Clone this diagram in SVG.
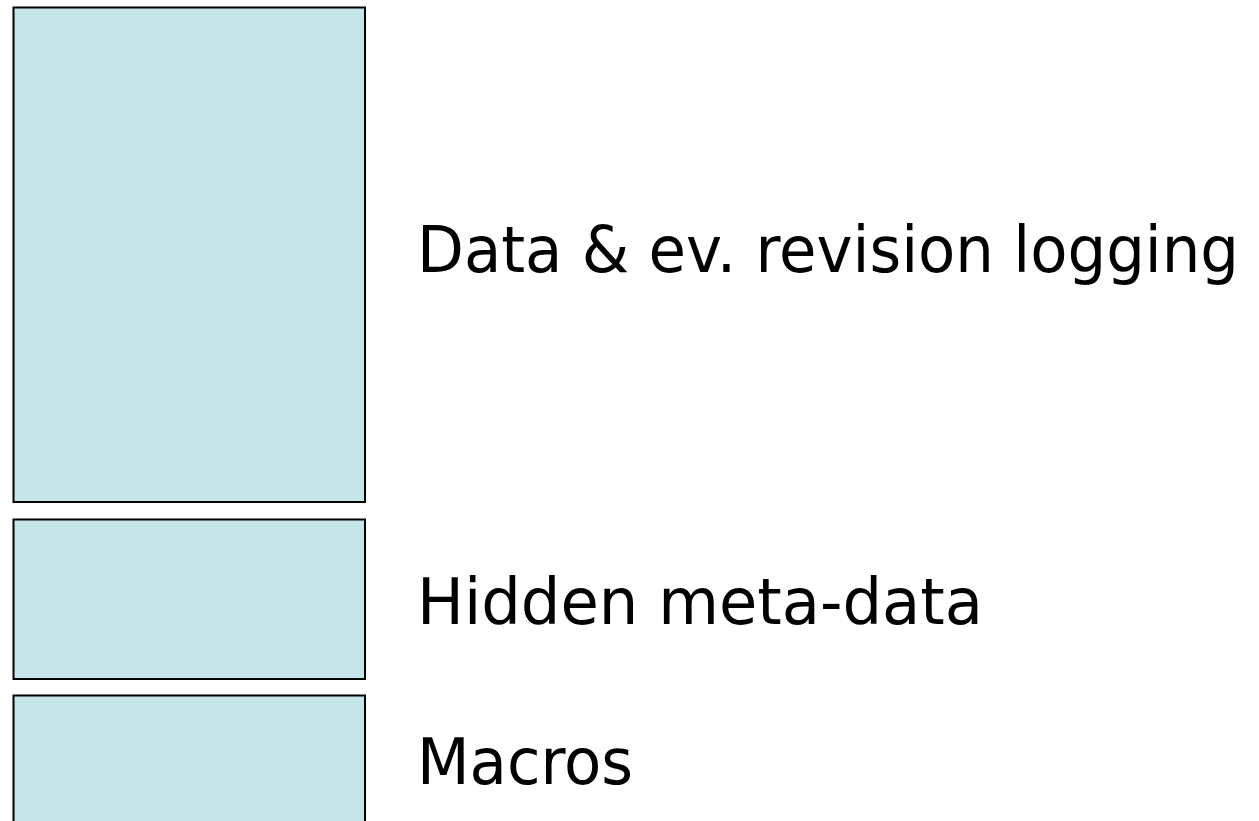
<svg xmlns="http://www.w3.org/2000/svg" width="1259" height="821" viewBox="0 0 1259 821">
<style>
.box{fill:#c6e5e8;stroke:#000;stroke-width:2}
.lbl{font-family:"DejaVu Sans Condensed","DejaVu Sans",sans-serif;font-size:64px;fill:#000}
</style>
<rect width="1259" height="821" fill="#fff"/>
<g id="node-data">
<rect class="box" x="13.5" y="7.5" width="351.5" height="494.5"/>
<text class="lbl" x="417" y="272" textLength="822" lengthAdjust="spacingAndGlyphs">Data &amp; ev. revision logging</text>
</g>
<g id="node-meta">
<rect class="box" x="13.5" y="519.5" width="351.5" height="159.5"/>
<text class="lbl" x="417" y="624" textLength="566" lengthAdjust="spacingAndGlyphs">Hidden meta-data</text>
</g>
<g id="node-macros">
<rect class="box" x="13.5" y="695.5" width="351.5" height="140"/>
<text class="lbl" x="417" y="784" textLength="216" lengthAdjust="spacingAndGlyphs">Macros</text>
</g>
<g id="connectors"/>
</svg>
